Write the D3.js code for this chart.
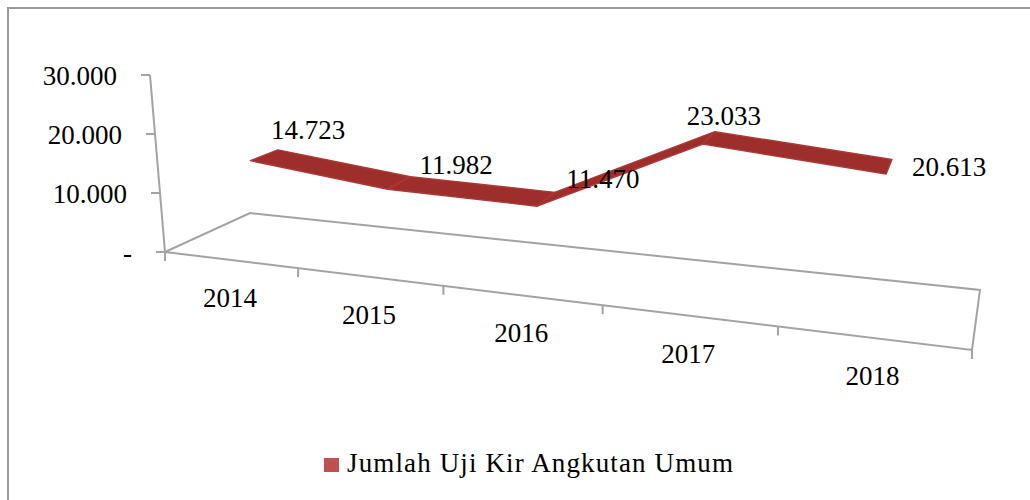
<!DOCTYPE html>
<html>
<head>
<meta charset="utf-8">
<script src="https://cdn.jsdelivr.net/npm/d3@7"></script>
<style>
  body { margin: 0; background: #fff; }
  svg { display: block; }
  text { font-family: "Liberation Serif", "DejaVu Serif", serif; fill: #000; }
</style>
</head>
<body>
<div id="chart"></div>
<script>
// data
const categories = ['2014', '2015', '2016', '2017', '2018'];
const values = [14723, 11982, 11470, 23033, 20613];
const yTicks = [0, 10000, 20000, 30000];
const seriesName = 'Jumlah Uji Kir Angkutan Umum';

// indonesian number format: 14.723, zero shown as "-"
const id = d3.formatLocale({ decimal: ',', thousands: '.', grouping: [3], currency: ['Rp', ''] });
const fmt = (v) => (v === 0 ? '-' : id.format(',')(v));

const width = 1030, height = 500;

// floor of the 3d plot (front-left, front-right, back-left, back-right)
const floor = { f0: [165, 252], f1: [972, 350], b0: [250, 213], b1: [980, 290] };
const persp = -0.21;          // foreshortening along the category axis
const vanish = { x: 600, d: 5136 };  // verticals converge below the chart
const depthShrink = 0.1;

const xScale = d3.scaleLinear().domain([0, categories.length]).range([0, 1]);
const yScale = d3.scaleLinear().domain([0, 30000]).range([0, 177]);

function proj(xc, v, z) {
  const u = xScale(xc);
  const t = (1 + persp) * u / (1 + persp * u);
  const fx = floor.f0[0] + t * (floor.f1[0] - floor.f0[0]);
  const fy = floor.f0[1] + t * (floor.f1[1] - floor.f0[1]);
  const bx = floor.b0[0] + t * (floor.b1[0] - floor.b0[0]);
  const by = floor.b0[1] + t * (floor.b1[1] - floor.b0[1]);
  const gx = fx + z * (bx - fx);
  const gy = fy + z * (by - fy);
  const h = yScale(v) / (1 + persp * u) * (1 - depthShrink * z);
  return [gx + (gx - vanish.x) * h / vanish.d, gy - h];
}

const svg = d3.select('#chart').append('svg')
  .attr('width', width)
  .attr('height', height);

// outer frame (cut off at right and bottom like the source)
svg.append('rect')
  .attr('x', 8).attr('y', 8)
  .attr('width', width + 10).attr('height', height + 10)
  .attr('fill', 'none')
  .attr('stroke', '#9a9a9a')
  .attr('stroke-width', 2);

const axisColor = '#a3a3a3';
const n = categories.length;

// floor outline
const floorPts = [proj(0, 0, 0), proj(n, 0, 0), proj(n, 0, 1), proj(0, 0, 1)];
svg.append('path')
  .attr('d', d3.line()(floorPts) + 'Z')
  .attr('fill', 'none')
  .attr('stroke', axisColor)
  .attr('stroke-width', 2);

// value axis
svg.append('line')
  .attr('x1', proj(0, 0, 0)[0]).attr('y1', proj(0, 0, 0)[1])
  .attr('x2', proj(0, 30000, 0)[0]).attr('y2', proj(0, 30000, 0)[1])
  .attr('stroke', axisColor).attr('stroke-width', 2);

const yt = svg.append('g');
yTicks.forEach((v) => {
  const p = proj(0, v, 0);
  yt.append('line')
    .attr('x1', p[0] - 9).attr('y1', p[1])
    .attr('x2', p[0]).attr('y2', p[1])
    .attr('stroke', axisColor).attr('stroke-width', 2);
  yt.append('text')
    .attr('x', p[0] - 33).attr('y', p[1] + 1)
    .attr('text-anchor', 'end')
    .attr('dominant-baseline', 'central')
    .attr('font-size', 27)
    .text(fmt(v));
});

// category ticks + labels
const xt = svg.append('g');
d3.range(n + 1).forEach((i) => {
  const p = proj(i, 0, 0);
  xt.append('line')
    .attr('x1', p[0]).attr('y1', p[1])
    .attr('x2', p[0]).attr('y2', p[1] + 9)
    .attr('stroke', axisColor).attr('stroke-width', 2);
});
categories.forEach((c, i) => {
  const p = proj(i + 0.5, 0, 0);
  xt.append('text')
    .attr('x', p[0]).attr('y', p[1] + 38)
    .attr('text-anchor', 'middle')
    .attr('dominant-baseline', 'central')
    .attr('font-size', 27)
    .text(c);
});

// 3d ribbon
const z0 = 0.33, z1 = 0.67;
const segs = d3.range(n - 1).map((i) => [
  proj(i + 0.5, values[i], z0),
  proj(i + 1.5, values[i + 1], z0),
  proj(i + 1.5, values[i + 1], z1),
  proj(i + 0.5, values[i], z1)
]);
svg.append('g').selectAll('path')
  .data(segs)
  .enter().append('path')
  .attr('d', (d) => d3.line()(d) + 'Z')
  .attr('fill', '#9e2e2b')
  .attr('stroke', '#ab3a37')
  .attr('stroke-width', 1.4)
  .attr('stroke-linejoin', 'round');

// data labels
const labelShift = [[44, -25], [57, -18], [57, -20], [15, -22], [60, 0]];
svg.append('g').selectAll('text')
  .data(values)
  .enter().append('text')
  .attr('x', (d, i) => proj(i + 0.5, d, 0.5)[0] + labelShift[i][0])
  .attr('y', (d, i) => proj(i + 0.5, d, 0.5)[1] + labelShift[i][1])
  .attr('text-anchor', 'middle')
  .attr('dominant-baseline', 'central')
  .attr('font-size', 27)
  .text((d) => fmt(d));

// legend
const lg = svg.append('g').attr('transform', 'translate(324,458)');
lg.append('rect')
  .attr('width', 15).attr('height', 14)
  .attr('fill', '#c0504d');
lg.append('text')
  .attr('x', 23).attr('y', 14)
  .attr('font-size', 27)
  .attr('textLength', 386)
  .attr('lengthAdjust', 'spacing')
  .text(seriesName);
</script>
</body>
</html>
